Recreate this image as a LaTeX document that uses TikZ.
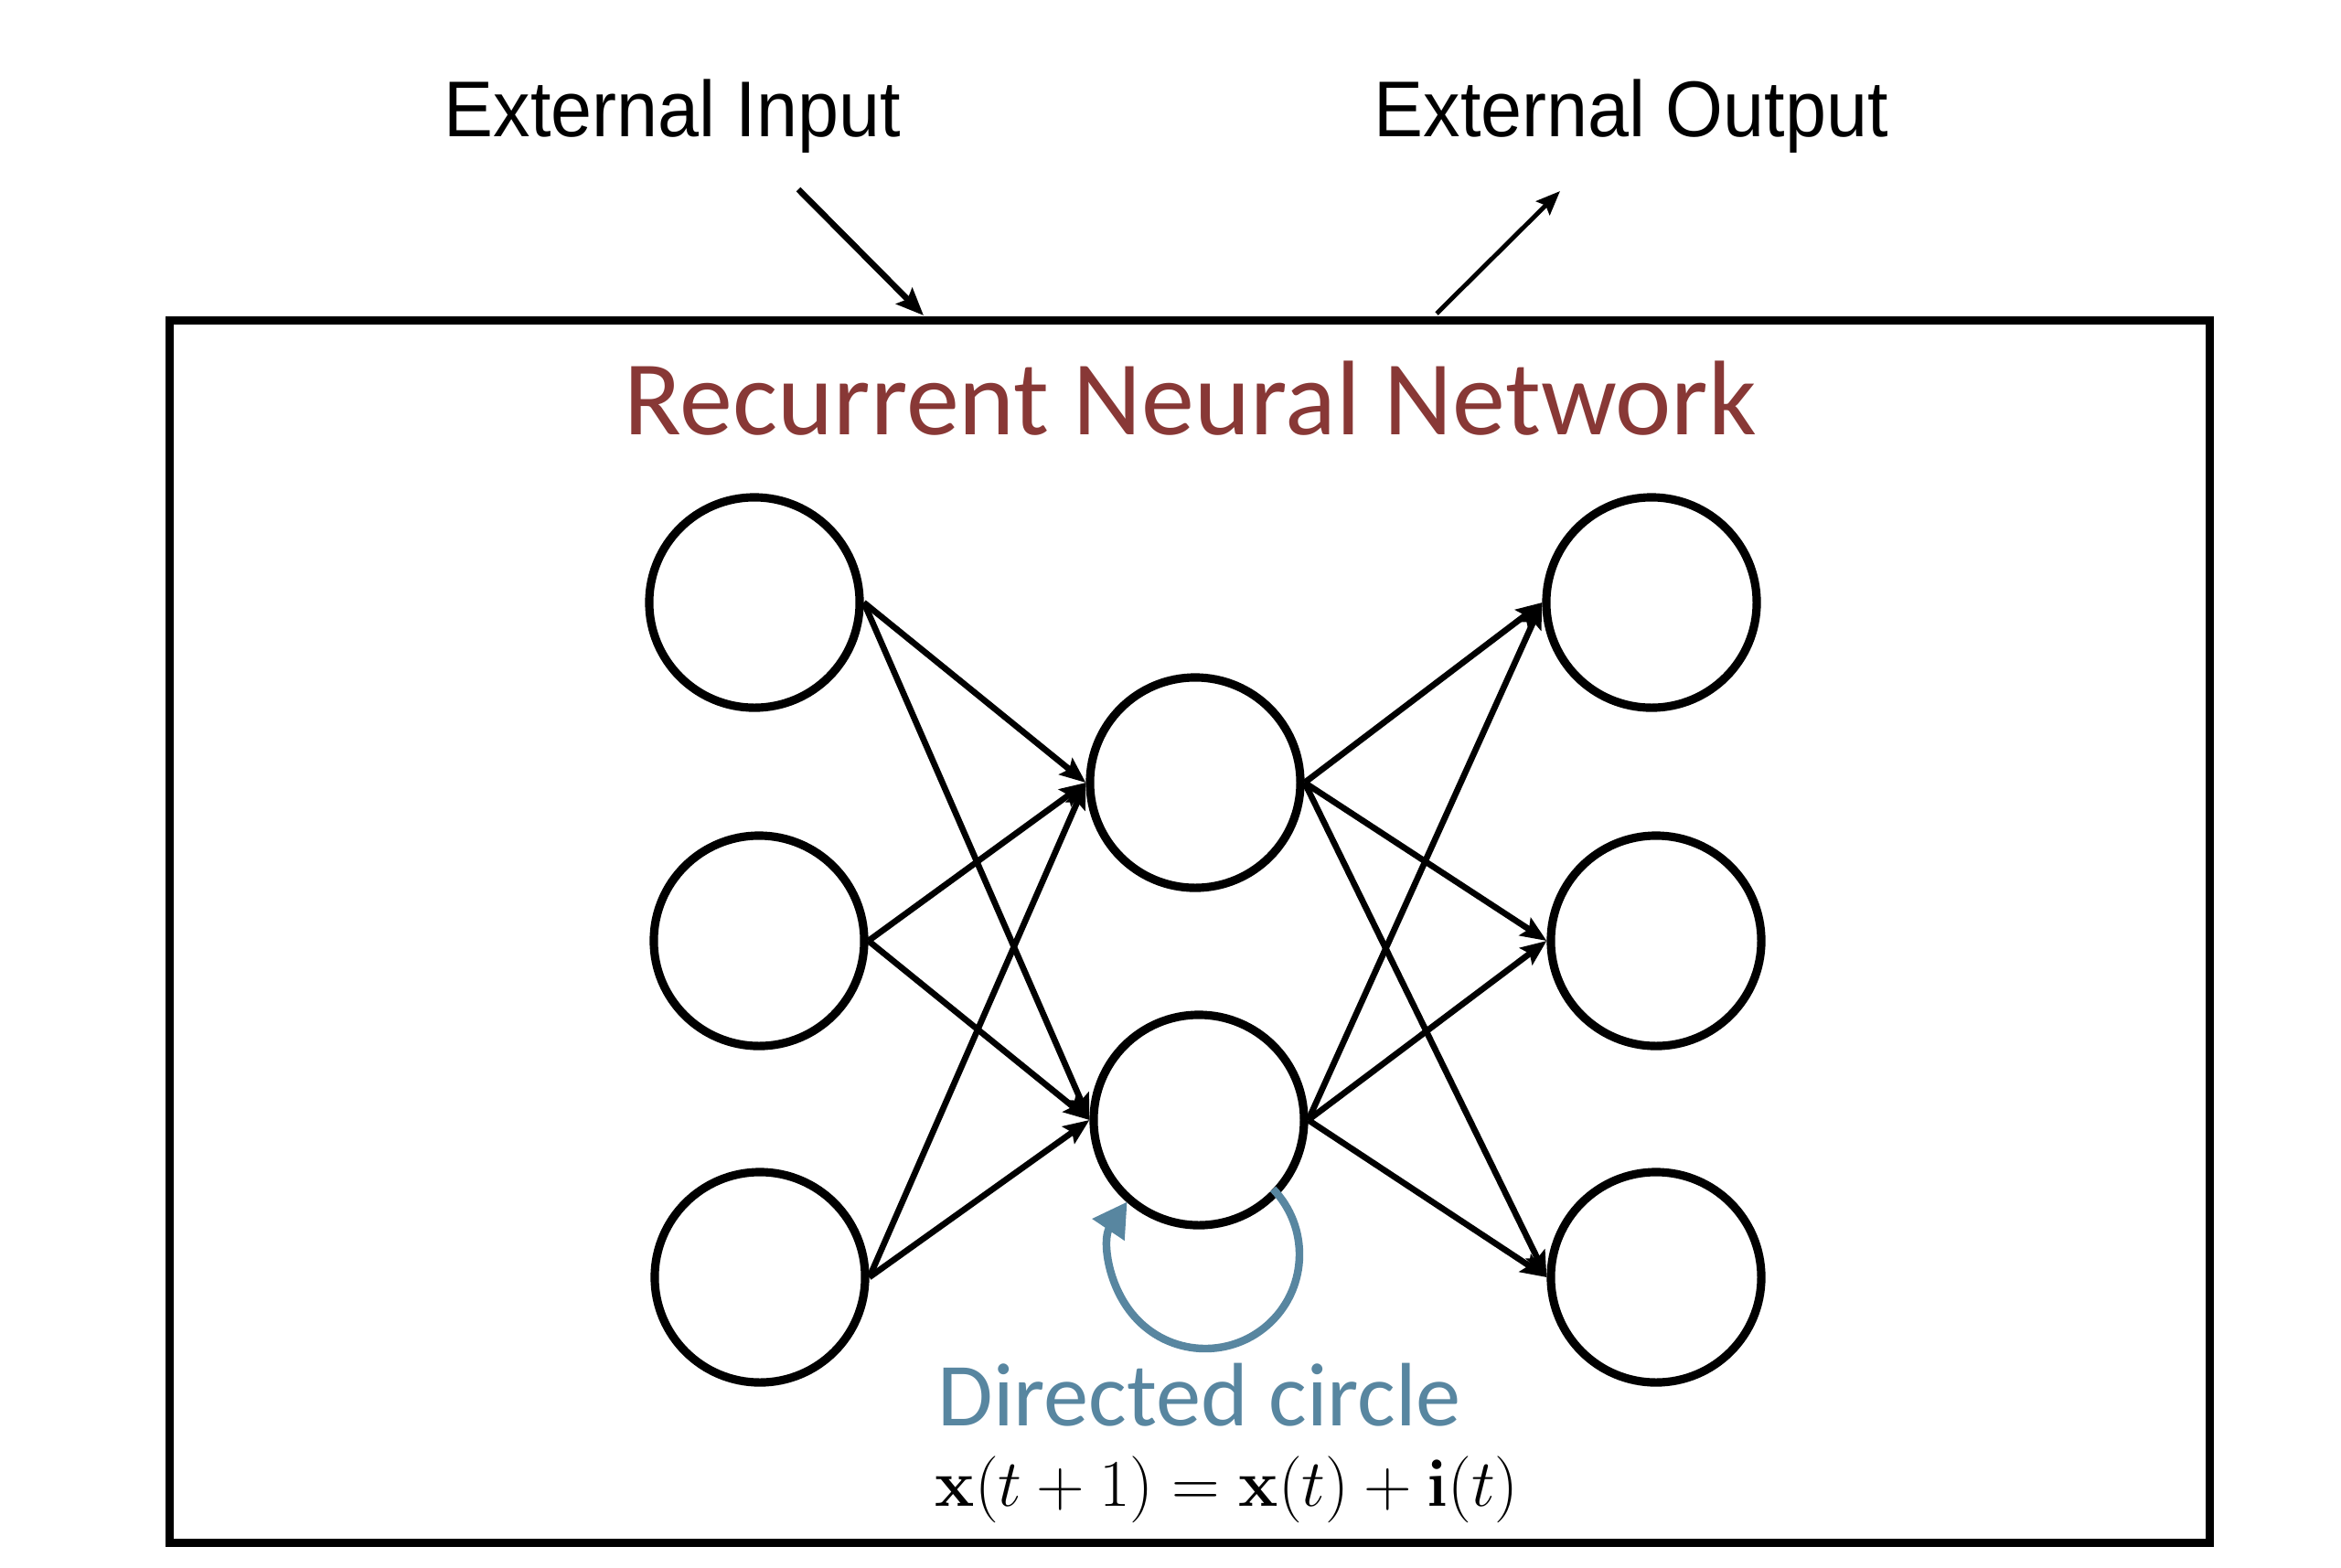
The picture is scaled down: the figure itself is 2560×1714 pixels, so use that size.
\documentclass[tikz,border=0pt]{standalone}
\usepackage[no-math]{fontspec}
\setmainfont{Liberation Sans}
\newfontfamily\calib{Carlito}
\usetikzlibrary{arrows.meta}
\definecolor{titlered}{RGB}{136,56,54}
\definecolor{loopblue}{RGB}{88,134,160}
\begin{document}
\begin{tikzpicture}[x=0.01cm,y=-0.01cm,
  neuron/.style={circle, draw, line width=2.6pt, minimum size=2.3cm, inner sep=0pt},
  link/.style={line width=1.9pt, -{Stealth[length=8pt,width=6.5pt,inset=1.4pt]}},
  extlabel/.style={anchor=base west, inner sep=0pt, font=\fontsize{24.6}{30}\selectfont, xscale=0.935},
  loopstyle/.style={draw=loopblue, line width=2.4pt, -{Triangle[length=10.5pt,width=11.5pt]}}]
\useasboundingbox (0,0) rectangle (2560,1714);
% frame
\node[draw, line width=2.6pt, minimum width=22.30cm, minimum height=13.36cm, inner sep=0pt, anchor=north west] (frame) at (181,346) {};
% labels
\node[extlabel] (inlabel) at (485,149) {External Input};
\node[extlabel] (outlabel) at (1502,149) {External Output};
\node[anchor=base west, inner sep=0pt, text=titlered, font=\calib\fontsize{33}{40}\selectfont] (title) at (682,475) {Recurrent Neural Network};
% external arrows
\coordinate (inA) at (873,207);
\coordinate (inB) at (1010,345);
\coordinate (outA) at (1571,343);
\coordinate (outB) at (1706,209);
\draw[line width=1.9pt, -{Stealth[length=8.5pt,width=7pt,inset=1.4pt]}] (inA) -- (inB);
\draw[line width=1.4pt, -{Stealth[length=7.5pt,width=6pt,inset=1.2pt]}] (outA) -- (outB);
% neurons
\node[neuron] (L1) at (825,659) {};
\node[neuron] (L2) at (830,1029) {};
\node[neuron] (L3) at (831,1397) {};
\node[neuron] (M1) at (1307,856) {};
\node[neuron] (M2) at (1311,1225) {};
\node[neuron] (R1) at (1806,659) {};
\node[neuron] (R2) at (1811,1029) {};
\node[neuron] (R3) at (1811,1397) {};
% connections
\foreach \a in {L1,L2,L3}{
  \foreach \b in {M1,M2}{
    \draw[link] (\a.east) -- (\b.west);
  }
}
\foreach \a in {M1,M2}{
  \foreach \b in {R1,R2,R3}{
    \draw[link] (\a.east) -- (\b.west);
  }
}
% self loop
\coordinate (lc) at (1318,1372);
\draw[loopstyle] ([shift={(-44:103)}]lc) arc[start angle=-44, end angle=214, radius=103];
\node[anchor=base west, inner sep=0pt, text=loopblue, font=\calib\fontsize{28}{34}\selectfont] (dc) at (1025,1559) {Directed circle};
\node[anchor=base west, inner sep=0pt, font=\fontsize{19.8}{24}\selectfont] (eq) at (1022,1647) {$\mathbf{x}(t+1)=\mathbf{x}(t)+\mathbf{i}(t)$};
\end{tikzpicture}
\end{document}
